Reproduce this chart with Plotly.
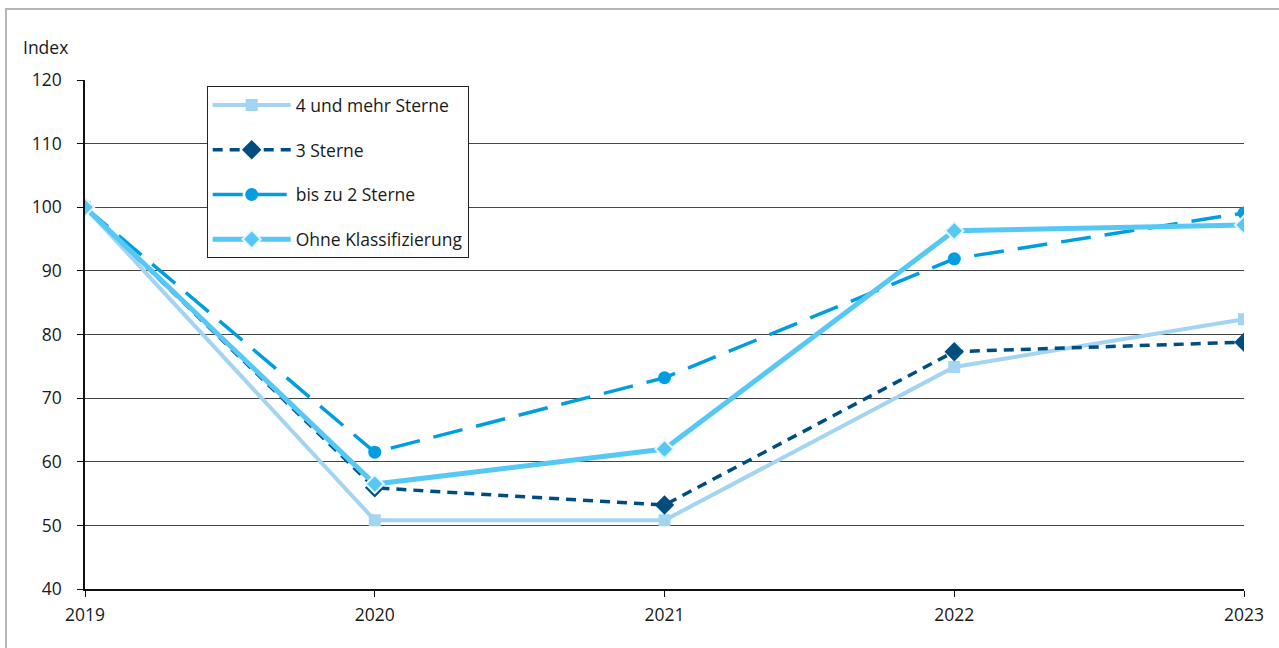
import plotly.graph_objects as go

# Jahre und Indexwerte (2019 = 100)
years = [2019, 2020, 2021, 2022, 2023]
vier_und_mehr = [100, 50.8, 50.8, 74.9, 82.4]
drei_sterne = [100, 55.9, 53.2, 77.3, 78.8]
bis_zwei = [100, 61.5, 73.2, 91.9, 99.1]
ohne_klass = [100, 56.5, 62.0, 96.3, 97.2]

y_ticks = [40, 50, 60, 70, 80, 90, 100, 110, 120]

FONT = "Open Sans"
TXT = "#1a1a1a"
FS = 17.5

fig = go.Figure()

fig.add_trace(go.Scatter(
    x=years, y=vier_und_mehr, name="4 und mehr Sterne", legendgroup="a",
    mode="lines+markers",
    line=dict(color="#a3d4f2", width=4),
    marker=dict(symbol="square", size=12, color="#a3d4f2"),
))
fig.add_trace(go.Scatter(
    x=years, y=drei_sterne, name="3 Sterne", legendgroup="b",
    mode="lines+markers",
    line=dict(color="#004e7f", width=3.5, dash="10px,7px"),
    marker=dict(symbol="diamond", size=15, color="#004e7f"),
))
fig.add_trace(go.Scatter(
    x=years, y=bis_zwei, name="bis zu 2 Sterne", legendgroup="c",
    mode="lines+markers",
    line=dict(color="#009ee0", width=3.5, dash="30px,14px"),
    marker=dict(symbol="circle", size=13, color="#009ee0"),
))
fig.add_trace(go.Scatter(
    x=years, y=ohne_klass, name="Ohne Klassifizierung", legendgroup="d",
    mode="lines+markers",
    line=dict(color="#55c8f6", width=5),
    marker=dict(symbol="diamond", size=14, color="#55c8f6",
                line=dict(color="#e6f6fd", width=2)),
))

# grauer Rahmen um die Grafik
fig.add_shape(type="path", xref="paper", yref="paper",
              path="M -0.0682,-0.3 L -0.0682,1.1395 L 1.1,1.1395",
              line=dict(color="#b5b5b5", width=2), layer="below")

fig.add_annotation(text="Index", xref="paper", yref="paper",
                   x=-0.055, y=1.065, xanchor="left", yanchor="middle",
                   showarrow=False, font=dict(family=FONT, size=FS, color=TXT))

fig.update_layout(
    width=1279, height=648,
    margin=dict(l=85, r=35, t=80, b=59),
    paper_bgcolor="white", plot_bgcolor="white",
    font=dict(family=FONT, size=FS, color=TXT),
    showlegend=True,
    legend=dict(
        x=0.105, y=0.988, xanchor="left", yanchor="top",
        bgcolor="white", bordercolor="#222", borderwidth=1,
        font=dict(family=FONT, size=FS, color=TXT),
        itemwidth=78, tracegroupgap=19,
    ),
    xaxis=dict(
        range=[2019, 2023], tickvals=years, ticktext=[str(y) for y in years],
        showgrid=False, zeroline=False,
        showline=True, linecolor="#111", linewidth=1.5,
        ticks="outside", ticklen=6, tickcolor="#111", tickwidth=1,
        ticklabelstandoff=3,
        tickfont=dict(family=FONT, size=FS, color=TXT),
    ),
    yaxis=dict(
        range=[40, 120], tickvals=y_ticks,
        showgrid=True, gridcolor="#444", gridwidth=1, zeroline=False,
        showline=True, linecolor="#111", linewidth=1.5,
        ticks="outside", ticklen=6, tickcolor="#111", tickwidth=1,
        ticklabelstandoff=12,
        tickfont=dict(family=FONT, size=FS, color=TXT),
    ),
)

fig.write_html("out.html")
